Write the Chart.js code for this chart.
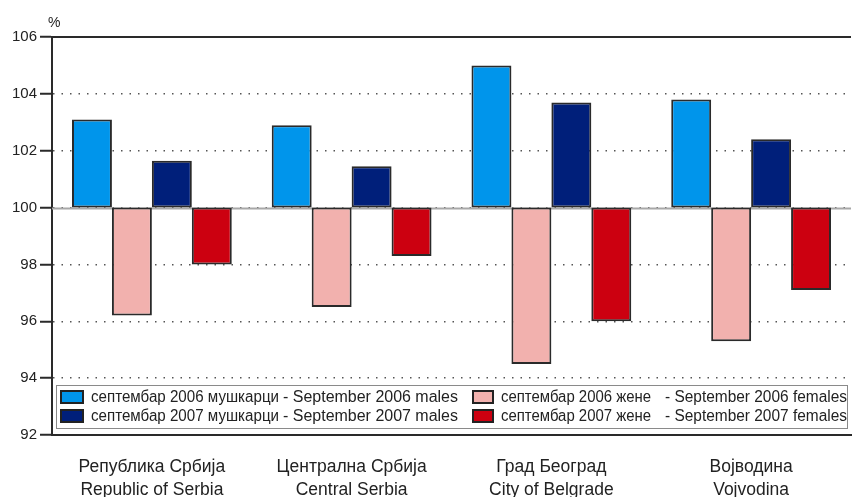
<!DOCTYPE html>
<html>
<head>
<meta charset="utf-8">
<script src="https://cdn.jsdelivr.net/npm/chart.js@4.4.1/dist/chart.umd.min.js"></script>
<style>
    html, body { margin: 0; padding: 0; background: #fff; }
    .chart-wrap { position: relative; width: 852px; height: 497px; }
</style>
</head>
<body>
<div class="chart-wrap"><canvas id="chart"></canvas></div>
<script>
const categories = [
    ['Република Србија', 'Republic of Serbia'],
    ['Централна Србија', 'Central Serbia'],
    ['Град Београд', 'City of Belgrade'],
    ['Војводина', 'Vojvodina']
];
// index, % (100 = base)
const males2006 = [103.1, 102.9, 105.0, 103.8];
const females2006 = [96.2, 96.5, 94.5, 95.3];
const males2007 = [101.65, 101.45, 103.7, 102.4];
const females2007 = [98.0, 98.3, 96.0, 97.1];

const seriesSr = ['септембар 2006 мушкарци', 'септембар 2006 жене', 'септембар 2007 мушкарци', 'септембар 2007 жене'];
const seriesEn = ['- September 2006 males', '- September 2006 females', '- September 2007 males', '- September 2007 females'];
const seriesColors = ['#0095eb', '#f2b1ae', '#001f7a', '#cc0010'];

const baseline = 100;
const yMin = 92, yMax = 106, yStep = 2;
const unitLabel = '%';

const FONT = '"Liberation Sans", Arial, sans-serif';

const floating = arr => arr.map(v => [baseline, v]);

// frame, base line, % label and the boxed legend
const decorations = {
    id: 'decorations',
    beforeDatasetsDraw(chart) {
        const { ctx, chartArea: ca, scales: { y } } = chart;
        const yb = Math.round(y.getPixelForValue(baseline)) + 0.5;
        ctx.save();
        ctx.strokeStyle = '#a8a8a8';
        ctx.lineWidth = 2;
        ctx.beginPath();
        ctx.moveTo(ca.left, yb);
        ctx.lineTo(ca.right, yb);
        ctx.stroke();
        const yt = Math.round(y.getPixelForValue(yMax));
        ctx.strokeStyle = '#2a2a2a';
        ctx.lineWidth = 2;
        ctx.beginPath();
        ctx.moveTo(ca.left, yt);
        ctx.lineTo(ca.right, yt);
        ctx.stroke();
        ctx.restore();
    },
    afterDraw(chart) {
        const { ctx, chartArea: ca } = chart;
        ctx.save();
        ctx.fillStyle = '#222';
        ctx.font = '14px ' + FONT;
        ctx.textBaseline = 'alphabetic';
        ctx.fillText(unitLabel, ca.left - 4, ca.top - 10);

        // legend box
        const bx = ca.left + 4, by = ca.bottom - 50, bw = ca.right - ca.left - 8, bh = 43;
        ctx.fillStyle = '#fff';
        ctx.fillRect(bx, by, bw, bh);
        ctx.strokeStyle = '#8a8a8a';
        ctx.lineWidth = 1;
        ctx.strokeRect(bx + 0.5, by + 0.5, bw, bh);

        const order = [0, 2, 1, 3]; // left column males, right column females
        const colX = [bx + 5, bx + 417];
        const enX = [bx + 227, bx + 609];
        const srW = [188, 150];
        const enW = [175, 182];
        ctx.font = '16px ' + FONT;
        ctx.textBaseline = 'middle';
        order.forEach((s, i) => {
            const col = Math.floor(i / 2), row = i % 2;
            const cy = by + 12 + row * 19;
            const sx = colX[col], sw = col === 0 ? 22 : 20;
            ctx.fillStyle = seriesColors[s];
            ctx.fillRect(sx, cy - 6, sw, 12);
            ctx.strokeStyle = '#222';
            ctx.lineWidth = 2;
            ctx.strokeRect(sx, cy - 6, sw, 12);
            ctx.fillStyle = '#222';
            ctx.fillText(seriesSr[s], sx + sw + 8, cy + 1, srW[col]);
            ctx.fillText(seriesEn[s], enX[col], cy + 1, enW[col]);
        });
        ctx.restore();
    }
};

const datasets = [males2006, females2006, males2007, females2007].map((vals, i) => ({
    label: seriesEn[i],
    data: floating(vals),
    backgroundColor: seriesColors[i],
    borderColor: '#2a2a2a',
    borderWidth: 2,
    borderSkipped: false,
    barPercentage: 1,
    categoryPercentage: 0.8
}));

new Chart(document.getElementById('chart'), {
    type: 'bar',
    data: { labels: categories, datasets },
    plugins: [decorations],
    options: {
        responsive: true,
        maintainAspectRatio: false,
        animation: false,
        layout: { padding: { top: 37, right: 1, left: 0, bottom: 0 } },
        plugins: {
            legend: { display: false },
            tooltip: { enabled: false }
        },
        scales: {
            x: {
                grid: { display: false },
                border: { display: true, color: '#2a2a2a', width: 2 },
                ticks: {
                    color: '#222',
                    font: { family: FONT, size: 17.5, lineHeight: 1.3 },
                    padding: 13,
                    maxRotation: 0
                },
                afterFit: s => { s.height = 62; }
            },
            y: {
                min: yMin,
                max: yMax,
                ticks: {
                    stepSize: yStep,
                    color: '#222',
                    font: { family: FONT, size: 15 },
                    padding: 3
                },
                grid: {
                    color: '#555',
                    lineWidth: 1.5,
                    tickLength: 12,
                    tickColor: '#2a2a2a',
                    tickWidth: 2,
                    tickBorderDash: []
                },
                border: { display: true, color: '#2a2a2a', width: 2, dash: [1.5, 7] },
                afterFit: s => { s.width = 52; }
            }
        }
    }
});
</script>
</body>
</html>
